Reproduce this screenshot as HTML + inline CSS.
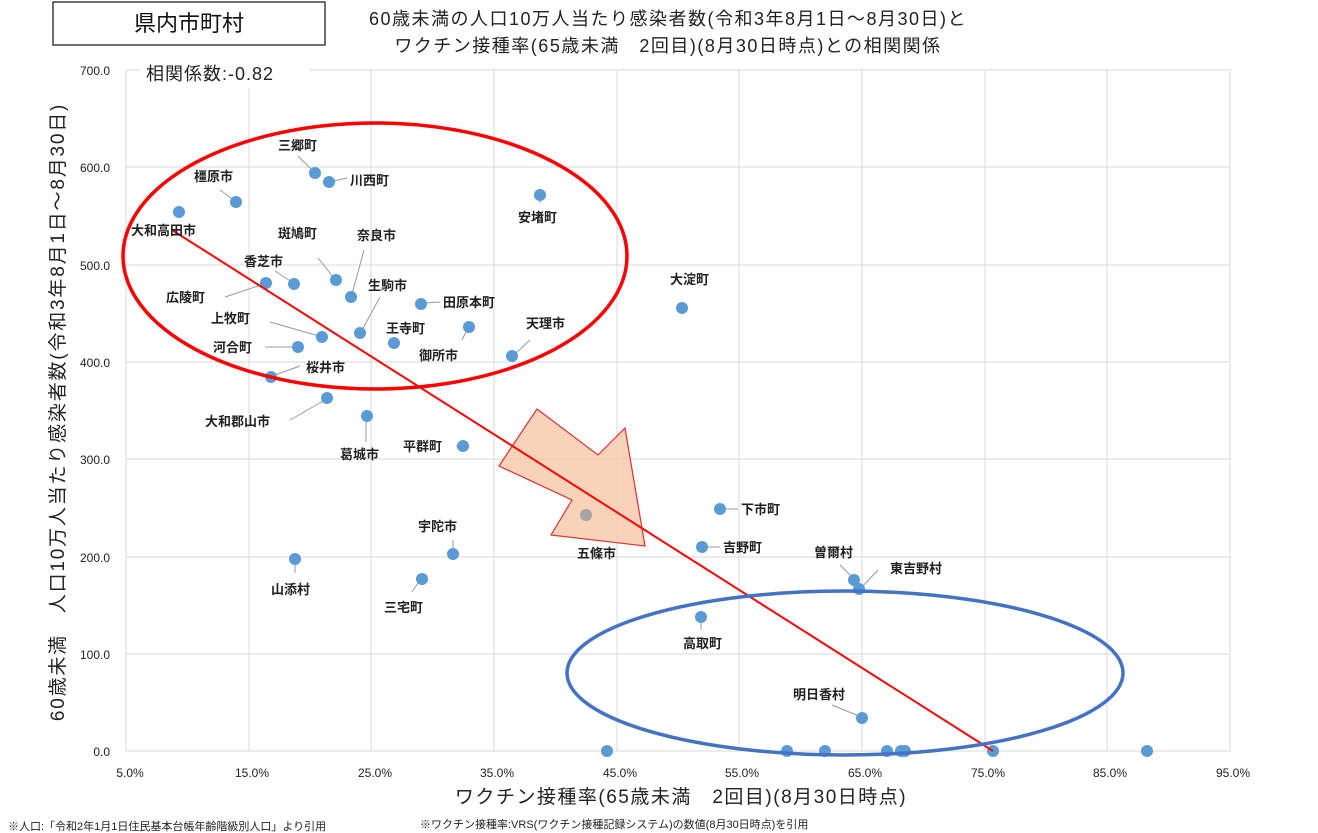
<!DOCTYPE html>
<html><head><meta charset="utf-8"><style>
body{margin:0;background:#fff;}
svg{display:block;font-family:"Liberation Sans","Noto Sans CJK JP",sans-serif;}
.lb{font-size:13px;font-weight:bold;fill:#222;}
.tk{font-size:12px;fill:#222;}
</style></head><body>
<svg width="1318" height="833" viewBox="0 0 1318 833">
<rect x="53" y="2" width="272" height="43" fill="#fff" stroke="#222" stroke-width="1.3"/>
<text x="189" y="31" font-size="22" text-anchor="middle" fill="#111">県内市町村</text>
<text x="668" y="25" font-size="18" text-anchor="middle" fill="#222" letter-spacing="1.5">60歳未満の人口10万人当たり感染者数(令和3年8月1日～8月30日)と</text>
<text x="668" y="52" font-size="18" text-anchor="middle" fill="#222" letter-spacing="1.5">ワクチン接種率(65歳未満　2回目)(8月30日時点)との相関関係</text>
<g stroke="#d9d9d9" stroke-width="1">
<line x1="126" y1="70" x2="1230" y2="70"/><line x1="126" y1="167" x2="1230" y2="167"/><line x1="126" y1="265" x2="1230" y2="265"/><line x1="126" y1="362" x2="1230" y2="362"/><line x1="126" y1="459" x2="1230" y2="459"/><line x1="126" y1="557" x2="1230" y2="557"/><line x1="126" y1="654" x2="1230" y2="654"/><line x1="126" y1="751" x2="1230" y2="751"/>
<line x1="126" y1="70" x2="126" y2="751"/><line x1="249" y1="70" x2="249" y2="751"/><line x1="371" y1="70" x2="371" y2="751"/><line x1="494" y1="70" x2="494" y2="751"/><line x1="617" y1="70" x2="617" y2="751"/><line x1="739" y1="70" x2="739" y2="751"/><line x1="862" y1="70" x2="862" y2="751"/><line x1="985" y1="70" x2="985" y2="751"/><line x1="1107" y1="70" x2="1107" y2="751"/><line x1="1230" y1="70" x2="1230" y2="751"/>
</g>
<rect x="140" y="58" width="170" height="30" fill="#fff"/>
<text x="146" y="80" font-size="18" fill="#222" letter-spacing="1">相関係数:-0.82</text>
<g class="tk" text-anchor="end">
<text x="110" y="75">700.0</text><text x="110" y="172">600.0</text><text x="110" y="270">500.0</text><text x="110" y="367">400.0</text><text x="110" y="464">300.0</text><text x="110" y="562">200.0</text><text x="110" y="659">100.0</text><text x="110" y="756">0.0</text>
</g>
<g class="tk" text-anchor="middle">
<text x="130" y="777">5.0%</text><text x="252" y="777">15.0%</text><text x="375" y="777">25.0%</text><text x="497" y="777">35.0%</text><text x="620" y="777">45.0%</text><text x="742" y="777">55.0%</text><text x="865" y="777">65.0%</text><text x="988" y="777">75.0%</text><text x="1110" y="777">85.0%</text><text x="1233" y="777">95.0%</text>
</g>
<text x="681" y="803" font-size="19" text-anchor="middle" fill="#222" letter-spacing="1.5">ワクチン接種率(65歳未満　2回目)(8月30日時点)</text>
<text transform="translate(64,412) rotate(-90)" font-size="19" text-anchor="middle" fill="#222" letter-spacing="1.8">60歳未満　人口10万人当たり感染者数(令和3年8月1日～8月30日)</text>
<text x="8" y="830" font-size="11" fill="#222">※人口:「令和2年1月1日住民基本台帳年齢階級別人口」より引用</text>
<text x="420" y="828" font-size="11" fill="#222">※ワクチン接種率:VRS(ワクチン接種記録システム)の数値(8月30日時点)を引用</text>
<g stroke="#999" stroke-width="1" fill="none">
<line x1="298" y1="156" x2="313" y2="171"/><line x1="333" y1="181" x2="347" y2="178"/><line x1="220" y1="190" x2="234" y2="200"/><line x1="540" y1="197" x2="540" y2="203"/>
<line x1="318" y1="258" x2="334" y2="278"/><line x1="364" y1="250" x2="352" y2="294"/><line x1="275" y1="271" x2="292" y2="282"/><line x1="225" y1="297" x2="264" y2="284"/>
<line x1="380" y1="297" x2="362" y2="330"/><line x1="425" y1="303" x2="440" y2="302"/><line x1="270" y1="322" x2="319" y2="336"/><line x1="265" y1="347" x2="296" y2="347"/>
<line x1="462" y1="340" x2="467" y2="330"/><line x1="515" y1="354" x2="530" y2="340"/><line x1="275" y1="375" x2="300" y2="366"/><line x1="290" y1="420" x2="325" y2="400"/>
<line x1="366" y1="420" x2="366" y2="442"/><line x1="456" y1="446" x2="460" y2="446"/><line x1="724" y1="509" x2="738" y2="509"/><line x1="706" y1="547" x2="720" y2="547"/>
<line x1="453" y1="540" x2="453" y2="550"/><line x1="295" y1="563" x2="295" y2="573"/><line x1="418" y1="583" x2="412" y2="592"/><line x1="840" y1="565" x2="852" y2="577"/>
<line x1="862" y1="587" x2="878" y2="570"/><line x1="701" y1="621" x2="701" y2="630"/><line x1="832" y1="705" x2="859" y2="716"/>
</g>
<g fill="#5b9bd5">
<circle cx="179" cy="212" r="6"/><circle cx="236" cy="202" r="6"/><circle cx="315" cy="173" r="6"/><circle cx="329" cy="182" r="6"/><circle cx="540" cy="195" r="6"/>
<circle cx="336" cy="280" r="6"/><circle cx="351" cy="297" r="6"/><circle cx="266" cy="283" r="6"/><circle cx="294" cy="284" r="6"/><circle cx="360" cy="333" r="6"/>
<circle cx="421" cy="304" r="6"/><circle cx="322" cy="337" r="6"/><circle cx="394" cy="343" r="6"/><circle cx="469" cy="327" r="6"/><circle cx="512" cy="356" r="6"/>
<circle cx="298" cy="347" r="6"/><circle cx="271" cy="377" r="6"/><circle cx="682" cy="308" r="6"/><circle cx="327" cy="398" r="6"/><circle cx="367" cy="416" r="6"/>
<circle cx="463" cy="446" r="6"/><circle cx="720" cy="509" r="6"/><circle cx="702" cy="547" r="6"/><circle cx="453" cy="554" r="6"/><circle cx="295" cy="559" r="6"/>
<circle cx="422" cy="579" r="6"/><circle cx="854" cy="580" r="6"/><circle cx="859" cy="589" r="6"/><circle cx="701" cy="617" r="6"/><circle cx="862" cy="718" r="6"/>
<circle cx="607" cy="751" r="6"/><circle cx="787" cy="751" r="6"/><circle cx="825" cy="751" r="6"/><circle cx="887" cy="751" r="6"/><circle cx="901" cy="751" r="6"/><circle cx="905" cy="751" r="6"/><circle cx="993" cy="751" r="6"/><circle cx="1147" cy="751" r="6"/>
</g>
<polygon points="537,409 598,455 625,428 645,546 551,535 572,500 499,466" fill="#f8cbad" fill-opacity="0.85" stroke="#e03030" stroke-width="1.2"/>
<circle cx="586" cy="515" r="6" fill="#a5a5a5"/>
<line x1="172" y1="230" x2="993" y2="751" stroke="#ff0000" stroke-width="2"/>
<ellipse cx="375" cy="256" rx="252" ry="133" fill="none" stroke="#ff0000" stroke-width="3.5"/>
<ellipse cx="845" cy="673" rx="278" ry="82" fill="none" stroke="#4472c4" stroke-width="3.5"/>
<g class="lb">
<text x="278" y="150">三郷町</text><text x="350" y="185">川西町</text><text x="194" y="181">橿原市</text><text x="518" y="222">安堵町</text><text x="131" y="235">大和高田市</text>
<text x="278" y="238">斑鳩町</text><text x="357" y="240">奈良市</text><text x="244" y="266">香芝市</text><text x="166" y="302">広陵町</text><text x="368" y="290">生駒市</text>
<text x="443" y="307">田原本町</text><text x="211" y="323">上牧町</text><text x="386" y="333">王寺町</text><text x="419" y="360">御所市</text><text x="526" y="328">天理市</text>
<text x="213" y="352">河合町</text><text x="306" y="372">桜井市</text><text x="670" y="284">大淀町</text><text x="205" y="426">大和郡山市</text><text x="340" y="459">葛城市</text>
<text x="403" y="451">平群町</text><text x="741" y="514">下市町</text><text x="577" y="558">五條市</text><text x="723" y="552">吉野町</text><text x="418" y="531">宇陀市</text>
<text x="271" y="594">山添村</text><text x="384" y="612">三宅町</text><text x="814" y="557">曽爾村</text><text x="890" y="573">東吉野村</text><text x="683" y="648">高取町</text><text x="793" y="699">明日香村</text>
</g>
</svg>
</body></html>
